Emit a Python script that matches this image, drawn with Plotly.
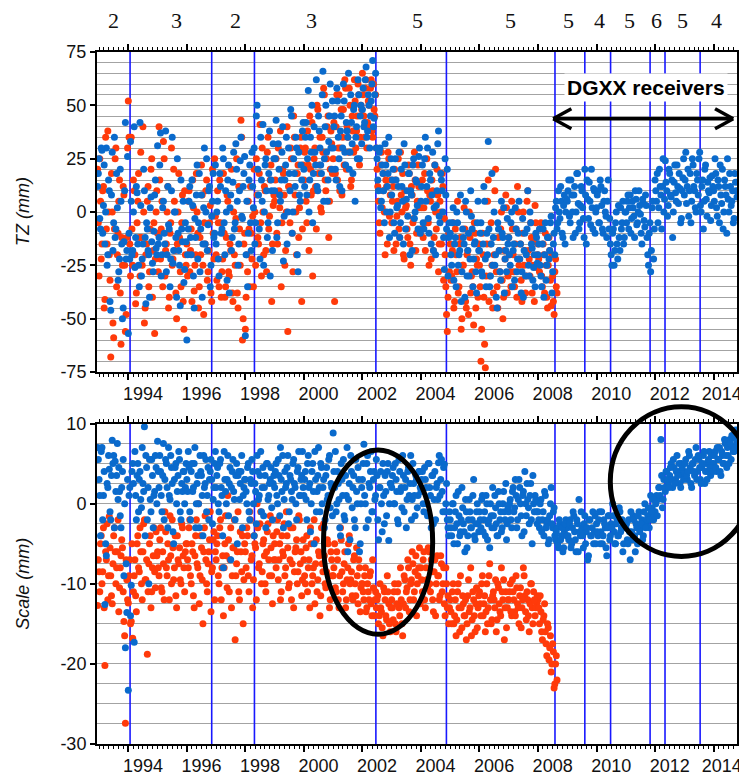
import plotly.graph_objects as go

# ---------------- data ----------------
# weekly-ish solution epochs, first set
epochs = [1992.95,
 1993.0, 1993.05, 1993.1, 1993.15, 1993.2, 1993.25, 1993.3, 1993.35, 1993.4, 1993.45, 1993.5, 1993.55, 1993.6, 1993.65, 1993.7, 1993.75, 1993.8, 1993.85, 1993.9, 1993.95,
 1994.0, 1994.05, 1994.1, 1994.15, 1994.2, 1994.25, 1994.3, 1994.35, 1994.4, 1994.45, 1994.5, 1994.55, 1994.6, 1994.65, 1994.7, 1994.75, 1994.8, 1994.85, 1994.9, 1994.95,
 1995.0, 1995.05, 1995.1, 1995.15, 1995.2, 1995.25, 1995.3, 1995.35, 1995.4, 1995.45, 1995.5, 1995.55, 1995.6, 1995.65, 1995.7, 1995.75, 1995.8, 1995.85, 1995.9, 1995.95,
 1996.0, 1996.05, 1996.1, 1996.15, 1996.2, 1996.25, 1996.3, 1996.35, 1996.4, 1996.45, 1996.5, 1996.55, 1996.6, 1996.65, 1996.7, 1996.75, 1996.8, 1996.85, 1996.9, 1996.95,
 1997.0, 1997.05, 1997.1, 1997.15, 1997.2, 1997.25, 1997.3, 1997.35, 1997.4, 1997.45, 1997.5, 1997.55, 1997.6, 1997.65, 1997.7, 1997.75, 1997.8, 1997.85, 1997.9, 1997.95,
 1998.0, 1998.05, 1998.1, 1998.15, 1998.2, 1998.25, 1998.3, 1998.35, 1998.4, 1998.45, 1998.5, 1998.55, 1998.6, 1998.65, 1998.7, 1998.75, 1998.8, 1998.85, 1998.9, 1998.95,
 1999.0, 1999.05, 1999.1, 1999.15, 1999.2, 1999.25, 1999.3, 1999.35, 1999.4, 1999.45, 1999.5, 1999.55, 1999.6, 1999.65, 1999.7, 1999.75, 1999.8, 1999.85, 1999.9, 1999.95,
 2000.0, 2000.05, 2000.1, 2000.15, 2000.2, 2000.25, 2000.3, 2000.35, 2000.4, 2000.45, 2000.5, 2000.55, 2000.6, 2000.65, 2000.7, 2000.75, 2000.8, 2000.85, 2000.9, 2000.95,
 2001.0, 2001.05, 2001.1, 2001.15, 2001.2, 2001.25, 2001.3, 2001.35, 2001.4, 2001.45, 2001.5, 2001.55, 2001.6, 2001.65, 2001.7, 2001.75, 2001.8, 2001.85, 2001.9, 2001.95,
 2002.0, 2002.05, 2002.1, 2002.15, 2002.2, 2002.25, 2002.3, 2002.35, 2002.4, 2002.45, 2002.5, 2002.55, 2002.6, 2002.65, 2002.7, 2002.75, 2002.8, 2002.85, 2002.9, 2002.95,
 2003.0, 2003.05, 2003.1, 2003.15, 2003.2, 2003.25, 2003.3, 2003.35, 2003.4, 2003.45, 2003.5, 2003.55, 2003.6, 2003.65, 2003.7, 2003.75, 2003.8, 2003.85, 2003.9, 2003.95,
 2004.0, 2004.05, 2004.1, 2004.15, 2004.2, 2004.25, 2004.3, 2004.35, 2004.4, 2004.45, 2004.5, 2004.55, 2004.6, 2004.65, 2004.7, 2004.75, 2004.8, 2004.85, 2004.9, 2004.95,
 2005.0, 2005.05, 2005.1, 2005.15, 2005.2, 2005.25, 2005.3, 2005.35, 2005.4, 2005.45, 2005.5, 2005.55, 2005.6, 2005.65, 2005.7, 2005.75, 2005.8, 2005.85, 2005.9, 2005.95,
 2006.0, 2006.05, 2006.1, 2006.15, 2006.2, 2006.25, 2006.3, 2006.35, 2006.4, 2006.45, 2006.5, 2006.55, 2006.6, 2006.65, 2006.7, 2006.75, 2006.8, 2006.85, 2006.9, 2006.95,
 2007.0, 2007.05, 2007.1, 2007.15, 2007.2, 2007.25, 2007.3, 2007.35, 2007.4, 2007.45, 2007.5, 2007.55, 2007.6, 2007.65, 2007.7, 2007.75, 2007.8, 2007.85, 2007.9, 2007.95,
 2008.0, 2008.05, 2008.1, 2008.15, 2008.2, 2008.25, 2008.3, 2008.35, 2008.4, 2008.45, 2008.5, 2008.55, 2008.6, 2008.65, 2008.7, 2008.75, 2008.8, 2008.85, 2008.9, 2008.95,
 2009.0, 2009.05, 2009.1, 2009.15, 2009.2, 2009.25, 2009.3, 2009.35, 2009.4, 2009.45, 2009.5, 2009.55, 2009.6, 2009.65, 2009.7, 2009.75, 2009.8, 2009.85, 2009.9, 2009.95,
 2010.0, 2010.05, 2010.1, 2010.15, 2010.2, 2010.25, 2010.3, 2010.35, 2010.4, 2010.45, 2010.5, 2010.55, 2010.6, 2010.65, 2010.7, 2010.75, 2010.8, 2010.85, 2010.9, 2010.95,
 2011.0, 2011.05, 2011.1, 2011.15, 2011.2, 2011.25, 2011.3, 2011.35, 2011.4, 2011.45, 2011.5, 2011.55, 2011.6, 2011.65, 2011.7, 2011.75, 2011.8, 2011.85, 2011.9, 2011.95,
 2012.0, 2012.05, 2012.1, 2012.15, 2012.2, 2012.25, 2012.3, 2012.35, 2012.4, 2012.45, 2012.5, 2012.55, 2012.6, 2012.65, 2012.7, 2012.75, 2012.8, 2012.85, 2012.9, 2012.95,
 2013.0, 2013.05, 2013.1, 2013.15, 2013.2, 2013.25, 2013.3, 2013.35, 2013.4, 2013.45, 2013.5, 2013.55, 2013.6, 2013.65, 2013.7, 2013.75, 2013.8, 2013.85, 2013.9, 2013.95,
 2014.0, 2014.05, 2014.1, 2014.15, 2014.2, 2014.25, 2014.3, 2014.35, 2014.4, 2014.45, 2014.5, 2014.55, 2014.6, 2014.65, 2014.7, 2014.75, 2014.8]

# second, interleaved set of epochs
epochs2 = [1992.975,
 1993.025, 1993.075, 1993.125, 1993.175, 1993.225, 1993.275, 1993.325, 1993.375, 1993.425, 1993.475, 1993.525, 1993.575, 1993.625, 1993.675, 1993.725, 1993.775, 1993.825, 1993.875, 1993.925, 1993.975,
 1994.025, 1994.075, 1994.125, 1994.175, 1994.225, 1994.275, 1994.325, 1994.375, 1994.425, 1994.475, 1994.525, 1994.575, 1994.625, 1994.675, 1994.725, 1994.775, 1994.825, 1994.875, 1994.925, 1994.975,
 1995.025, 1995.075, 1995.125, 1995.175, 1995.225, 1995.275, 1995.325, 1995.375, 1995.425, 1995.475, 1995.525, 1995.575, 1995.625, 1995.675, 1995.725, 1995.775, 1995.825, 1995.875, 1995.925, 1995.975,
 1996.025, 1996.075, 1996.125, 1996.175, 1996.225, 1996.275, 1996.325, 1996.375, 1996.425, 1996.475, 1996.525, 1996.575, 1996.625, 1996.675, 1996.725, 1996.775, 1996.825, 1996.875, 1996.925, 1996.975,
 1997.025, 1997.075, 1997.125, 1997.175, 1997.225, 1997.275, 1997.325, 1997.375, 1997.425, 1997.475, 1997.525, 1997.575, 1997.625, 1997.675, 1997.725, 1997.775, 1997.825, 1997.875, 1997.925, 1997.975,
 1998.025, 1998.075, 1998.125, 1998.175, 1998.225, 1998.275, 1998.325, 1998.375, 1998.425, 1998.475, 1998.525, 1998.575, 1998.625, 1998.675, 1998.725, 1998.775, 1998.825, 1998.875, 1998.925, 1998.975,
 1999.025, 1999.075, 1999.125, 1999.175, 1999.225, 1999.275, 1999.325, 1999.375, 1999.425, 1999.475, 1999.525, 1999.575, 1999.625, 1999.675, 1999.725, 1999.775, 1999.825, 1999.875, 1999.925, 1999.975,
 2000.025, 2000.075, 2000.125, 2000.175, 2000.225, 2000.275, 2000.325, 2000.375, 2000.425, 2000.475, 2000.525, 2000.575, 2000.625, 2000.675, 2000.725, 2000.775, 2000.825, 2000.875, 2000.925, 2000.975,
 2001.025, 2001.075, 2001.125, 2001.175, 2001.225, 2001.275, 2001.325, 2001.375, 2001.425, 2001.475, 2001.525, 2001.575, 2001.625, 2001.675, 2001.725, 2001.775, 2001.825, 2001.875, 2001.925, 2001.975,
 2002.025, 2002.075, 2002.125, 2002.175, 2002.225, 2002.275, 2002.325, 2002.375, 2002.425, 2002.475, 2002.525, 2002.575, 2002.625, 2002.675, 2002.725, 2002.775, 2002.825, 2002.875, 2002.925, 2002.975,
 2003.025, 2003.075, 2003.125, 2003.175, 2003.225, 2003.275, 2003.325, 2003.375, 2003.425, 2003.475, 2003.525, 2003.575, 2003.625, 2003.675, 2003.725, 2003.775, 2003.825, 2003.875, 2003.925, 2003.975,
 2004.025, 2004.075, 2004.125, 2004.175, 2004.225, 2004.275, 2004.325, 2004.375, 2004.425, 2004.475, 2004.525, 2004.575, 2004.625, 2004.675, 2004.725, 2004.775, 2004.825, 2004.875, 2004.925, 2004.975,
 2005.025, 2005.075, 2005.125, 2005.175, 2005.225, 2005.275, 2005.325, 2005.375, 2005.425, 2005.475, 2005.525, 2005.575, 2005.625, 2005.675, 2005.725, 2005.775, 2005.825, 2005.875, 2005.925, 2005.975,
 2006.025, 2006.075, 2006.125, 2006.175, 2006.225, 2006.275, 2006.325, 2006.375, 2006.425, 2006.475, 2006.525, 2006.575, 2006.625, 2006.675, 2006.725, 2006.775, 2006.825, 2006.875, 2006.925, 2006.975,
 2007.025, 2007.075, 2007.125, 2007.175, 2007.225, 2007.275, 2007.325, 2007.375, 2007.425, 2007.475, 2007.525, 2007.575, 2007.625, 2007.675, 2007.725, 2007.775, 2007.825, 2007.875, 2007.925, 2007.975,
 2008.025, 2008.075, 2008.125, 2008.175, 2008.225, 2008.275, 2008.325, 2008.375, 2008.425, 2008.475, 2008.525, 2008.575, 2008.625, 2008.675, 2008.725, 2008.775, 2008.825, 2008.875, 2008.925, 2008.975,
 2009.025, 2009.075, 2009.125, 2009.175, 2009.225, 2009.275, 2009.325, 2009.375, 2009.425, 2009.475, 2009.525, 2009.575, 2009.625, 2009.675, 2009.725, 2009.775, 2009.825, 2009.875, 2009.925, 2009.975,
 2010.025, 2010.075, 2010.125, 2010.175, 2010.225, 2010.275, 2010.325, 2010.375, 2010.425, 2010.475, 2010.525, 2010.575, 2010.625, 2010.675, 2010.725, 2010.775, 2010.825, 2010.875, 2010.925, 2010.975,
 2011.025, 2011.075, 2011.125, 2011.175, 2011.225, 2011.275, 2011.325, 2011.375, 2011.425, 2011.475, 2011.525, 2011.575, 2011.625, 2011.675, 2011.725, 2011.775, 2011.825, 2011.875, 2011.925, 2011.975,
 2012.025, 2012.075, 2012.125, 2012.175, 2012.225, 2012.275, 2012.325, 2012.375, 2012.425, 2012.475, 2012.525, 2012.575, 2012.625, 2012.675, 2012.725, 2012.775, 2012.825, 2012.875, 2012.925, 2012.975,
 2013.025, 2013.075, 2013.125, 2013.175, 2013.225, 2013.275, 2013.325, 2013.375, 2013.425, 2013.475, 2013.525, 2013.575, 2013.625, 2013.675, 2013.725, 2013.775, 2013.825, 2013.875, 2013.925, 2013.975,
 2014.025, 2014.075, 2014.125, 2014.175, 2014.225, 2014.275, 2014.325, 2014.375, 2014.425, 2014.475, 2014.525, 2014.575, 2014.625, 2014.675, 2014.725, 2014.775]

# TZ (mm), blue solution (whole period)
tz_blue = [
 12, 25, -8, 29, 3, -15, 30, -20, 10, -46, 28, -5, -12, 18, -32, -22, 5, -50, -14, 42, -18,
 -57, -22, 5, -18, 40, -12, 9, -25, 42, -30, -15, 10, -43, -8, -20, 2, -14, -28, 8, -17,
 31, -12, 37, -20, 5, -15, -28, 12, -8, -22, 35, -18, 0, -40, -10, -25, 15, -14, -33, -5,
 -60, -8, 12, -20, 3, -45, -12, 22, -5, -28, 8, -15, 30, 0, -18, 10, -35, -2, 18, -10,
 -15, 5, -30, 12, -8, 25, -20, 0, 15, -38, 8, -12, 28, -5, 20, -25, 10, 35, -3, 18,
 -58, 5, -10, 22, -18, 12, 30, -5, 50, 8, -22, 15, 41, 0, 25, -12, 18, -30, 10, 32,
 10, 43, -5, 20, 5, 28, -23, 15, 35, 0, 18, 48, -10, 25, 12, 30, -28, 8, 22, 38,
 20, 35, 8, 57, 15, 28, -5, 40, 22, 12, 45, 30, 18, 66, 25, 50, 5, 33, 60, 20,
 30, 45, 15, 52, 25, 38, 10, 60, 28, 42, 35, 20, 55, 32, 48, 5, 40, 62, 25, 50,
 48, 40, 62, 35, 55, 30, 52, 71, 44, 65, 25, 10, 30, 5, 18, -5, 22, 12, 35, 0,
 8, 20, -10, 15, 3, 28, -5, 12, -15, 22, 6, -2, 18, 10, -18, 25, 0, 14, -8, 30,
 5, 22, -8, 35, 12, -3, 18, -15, 28, 2, -20, 10, 38, -5, 15, 0, -27, 8, 20, -12,
 -10, -25, 2, -15, -35, -5, -20, 8, -28, -12, -40, 0, -18, -30, 10, -8, -22, -14, -38, 5,
 -18, -5, -30, 12, -22, -10, 33, -35, -15, -25, 0, -20, -45, -8, -28, 5, -12, -38, -18, -3,
 -12, -25, 0, -18, -32, -8, -22, 5, -15, -28, -40, -10, -20, 10, -30, -5, -17, -26, -35, -12,
 -20, -8, -30, -15, -40, -5, -25, -12, -18, -2, -28, -10, 2, -8, 10, -3, 5, -12, 8, 0,
 5, 15, -5, 8, -12, 12, 0, 18, -8, 3, 10, -3, 20, -15, 6, 14, -6, 2, 11, -10,
 2, 10, -5, 12, -8, 5, 0, -12, 15, -3, -20, -10, -25, -5, -15, 3, -18, -8, 5, -12,
 0, 5, -8, 8, -3, 2, -12, 6, -5, 10, -1, -15, 4, -7, 3, -20, -10, -28, 2, -22,
 15, 5, -5, 20, 8, 12, 0, 24, 10, 3, 18, 7, -12, 14, 9, 22, 4, 11, -3, 16,
 8, 28, 12, -2, 18, 5, 22, 10, 0, 15, 25, 3, 12, -8, 20, 6, 14, 9, -4, 17,
 10, 25, 2, 15, -5, 8, 20, 0, 12, -10, 6, 18, 3, 10, -3, 14, 7]

tz_blue2 = [
 18, -3, 30, -10, 22, 0, -25, 15, -42, 8, -18, 35, -8, 2, -28, 20, -15, -45, 10, -22, 26,
 -10, 33, -20, 0, -26, 12, -15, -35, 3, -22, 20, -12, -5, -18, -40, 7, -24, -9, 15, -20,
 -15, 22, -30, 2, -10, 38, -20, -6, -35, 10, -24, 0, -12, 25, -18, -44, -8, 5, -27, -14,
 -20, 5, -12, 15, -30, -3, 8, -22, 18, -8, -40, 2, -15, 25, -6, 12, -25, 5, -12, 22,
 0, -22, 18, -10, 30, -5, 10, -32, 22, 2, -18, 14, -8, 32, 5, -15, 24, -2, 12, 26,
 -20, -35, 15, -5, 28, 2, -15, 45, 20, -8, 35, 5, -25, 22, 10, -5, 38, 15, -18, 25,
 25, -12, 32, 8, 15, 40, -2, 22, -15, 30, 10, 45, 0, 18, 35, -20, 28, 5, 15, 42,
 12, 42, 25, 0, 35, 50, 18, 28, 62, 10, 38, 22, 55, 5, 40, 28, 15, 45, 30, 52,
 40, 20, 58, 35, 12, 45, 30, 52, 22, 38, 65, 28, 42, 18, 50, 35, 25, 55, 45, 32,
 58, 42, 68, 38, 50, 45, 60, 40, 55, 30, 15, 28, 2, 22, 10, 32, 0, 18, -12, 25,
 15, -5, 25, 2, 12, -12, 20, 5, 32, -8, 10, 18, -20, 8, 22, -3, 15, 3, 26, -10,
 12, -5, 25, 5, 30, -10, 15, 8, -18, 22, 3, 32, -2, 18, 10, -12, 25, -8, -30, -5,
 -20, -5, -32, -12, 0, -25, -18, -42, -8, -15, 5, -30, -10, -22, -2, -35, -15, -28, -5, -18,
 -10, -28, -15, 5, -35, -20, -8, -30, 18, -12, -25, -40, -5, -18, -32, -10, 2, -22, -28, -15,
 -20, -5, -35, -15, 2, -28, -10, -22, -38, -3, -18, -30, -8, -25, 0, -15, -32, -20, -10, -24,
 -15, -25, -35, -8, -20, -32, -12, -22, -5, -38, -15, -20, 5, -5, 0, 12, -10, 3, -15, 6,
 10, -2, 15, 0, 8, -10, 18, 4, -5, 12, 2, -12, 8, 15, -3, 5, 20, -8, 10, 0,
 8, -5, 15, 3, -10, 10, -2, 5, -8, -15, -25, -8, -18, 0, -22, -12, 2, -5, -15, 0,
 -5, 8, 2, -10, 5, -2, 10, -6, 0, 3, -10, 6, -4, 8, -12, -25, -5, -18, 5, -8,
 10, 18, 2, 12, -8, 25, 6, 14, -2, 20, 8, 15, 0, 22, 5, 12, 18, -5, 10, 25,
 15, 4, 20, 10, -5, 25, 12, 2, 18, 8, 28, 0, 15, 5, 22, -2, 10, 16, 3, 12,
 5, 18, -2, 12, 22, 4, -8, 15, 8, 25, 0, 12, 5, -5, 18, 10]

# TZ (mm), red solution (ends 2008.65)
tz_red = [
 20, -30, 5, -15, 12, -41, -8, 38, -20, -68, 0, -59, 25, -35, -10, 15, -62, -25, 8, -56, -12,
 52, -15, 35, -25, 10, -43, -5, 18, -30, -12, 40, -52, -20, 5, -35, -8, 25, -18, -57, 0,
 -10, 40, -22, 5, 33, -30, -15, 12, -40, -5, -25, 20, -18, -50, 0, -12, -35, 8, -55, -20,
 -15, 5, -28, -8, 15, -37, -20, 0, -45, -12, 22, -25, -5, 10, -32, -18, 3, -42, -10, 25,
 -20, 10, -35, -5, -28, 18, -40, -12, 5, -30, -18, -38, 0, -25, 25, -45, -8, 43, -60, -15,
 -55, -20, 5, -35, -10, -2, 20, -25, 8, -15, 41, -30, 0, 12, -18, 28, -8, 15, -42, 3,
 5, 25, -15, 10, 38, -5, 18, -25, 0, -56, 12, 30, -10, 45, 8, -20, 22, 2, 35, -8,
 15, 30, -5, 22, 45, 8, -30, 25, 12, 50, 18, 35, 0, 28, 55, 10, 40, -12, 20, 32,
 25, -42, 40, 15, 55, 30, 8, 48, 62, 20, 35, 58, 12, 45, 28, 52, 38, 60, 22, 50,
 65, 45, 58, 30, 52, 40, 62, 35, 48, 55, 20, 5, -10, 28, 10, 0, 15, -15, 25, 8,
 -5, 12, 20, -15, 5, -8, 28, 0, -20, 10, 3, -12, 18, -25, 8, -3, 15, -10, 22, 2,
 -8, 15, 2, -18, 25, -5, 8, -22, 10, -12, 0, 20, -28, 5, -15, 12, -3, -35, -56, -10,
 -15, -30, -5, -42, -20, 5, -35, -12, -50, -25, -8, -45, -18, 0, -38, -28, -53, -10, -22, -40,
 -25, -70, -10, -40, -73, -15, 15, -30, -5, -45, -20, 20, -35, -12, -28, 0, -50, -18, 8, -38,
 -12, -28, 5, -20, -35, -8, 12, -25, -15, -42, 0, -18, -30, 10, -22, -5, -38, -14, 3, -26,
 -15, -28, -5, -35, -20, -10, -40, -25, -18, -44, -30, -48, -22, -38]

tz_red2 = [
 -5, 25, -22, 10, -45, 35, -15, 0, -32, 18, -52, -8, 30, -20, 5, -38, -12, 12, -25, -48, 30,
 35, -30, -8, 15, -20, -38, 5, -12, 28, -25, 0, -45, -15, 12, -28, 20, -40, -5, -22, 10,
 -28, 15, -8, -35, 25, -18, 0, -45, -10, 30, -22, 5, -38, -15, 18, -28, -5, -42, 10, -25,
 -30, 10, -18, -42, 2, -25, 18, -10, -35, -20, 8, -48, -15, 15, -28, -5, -38, 20, -22, -2,
 -32, -5, 15, -40, -22, -10, -35, 8, -28, -15, 20, -42, -20, -3, -38, 12, -25, 35, -50, -10,
 -40, -28, -8, 12, -22, -35, 0, 25, -12, 18, -5, 30, -20, 10, -28, 35, -2, 22, -15, 8,
 15, -10, 30, 2, -35, 20, 8, -18, 40, 12, -5, 25, -28, 35, 0, 18, -12, 30, -42, 22,
 28, 5, 38, -18, 20, 42, 10, 30, -8, 48, 22, 2, 35, 58, 15, 25, 45, 5, 38, 18,
 42, 18, 55, 30, 10, 48, 35, 22, 58, 40, 28, 50, 15, 38, 62, 30, 45, 55, 35, 48,
 55, 35, 62, 42, 50, 58, 38, 60, 45, 30, 12, -5, 22, 2, 18, -20, 12, 28, -2, 15,
 5, -18, 15, -2, 25, -12, 8, 18, -22, 2, -8, 22, -15, 12, -5, 28, -18, 5, 12, -10,
 2, -12, 18, -5, 10, -25, 5, 15, -18, 22, -8, 8, -15, 0, 18, -32, -20, -48, -40, -28,
 -32, -18, -45, -8, -28, -38, -15, -55, -25, 2, -42, -20, -48, -12, -30, -35, -5, -45, -25, -15,
 -35, -55, -20, -62, -30, 5, -42, -15, -25, -38, 10, -28, -45, -18, -8, -32, -40, -22, 2, -30,
 -20, -35, -8, -28, -15, -40, 0, -22, -32, -10, -25, -38, 5, -18, -30, -12, -25, -42, -5, -20,
 -22, -8, -30, -15, -38, -25, -45, -12, -32, -20, -42, -28, -35]

# Scale (mm), blue solution
scale_blue = [
 7, 3, -4, 7, 1, -12.6, -6.5, 2, 4.3, -2, 7.9, 6, 5.3, 3.5, 0.5, 1.5, -3, 4, -9, -18, -13.6,
 -23.3, 2, -10.2, 5, -17.3, 1, 3.5, -1, 4, -0.5, 2.5, 9.6, 6, -2, -10, 0.5, 5.5, -3, 1.5, 4.5,
 7.8, 2, 4, -1, 7.5, 3, 5, -3, 1, 6, 2.5, -5, 4.5, 0, 3.5, 5.5, -2, 1.5, 4, 2,
 3, 6.5, -1, 4, 1.5, 5, -3, 2.5, 0, 6, 3.5, -4, 2, 5.5, 1, -2, 4, 3, 0.5, 5,
 2, 4.5, -1, 5.5, 1, -8, 3, 0, 6, 2.5, -7, 4, 1.5, -2, 5, 3.5, 0.5, 4, -3, 2,
 3, 0, 5, -2, 2.5, 4, -4, 1.5, 6, 0.5, 3.5, -1, 4.5, 2, -3, 5, 1, 3, -0.5, 2.5,
 2, 5, 0, 3.5, 7, 1.5, -3, 4, 2.5, 6, -1, 3, 0.5, 5.5, 2, -2, 4.5, 1, 3, 6.5,
 1, 4, -2, 6, 2.5, 0, 5, -5, 3, 1.5, 7, -1, 4.5, 2, -3, 3.5, 0.5, 5.5, -0.5, 2,
 8.8, 2, -1, 4, 0.5, -4, 3, 5.5, -2, 1, -6, 2.5, 6, -0.5, 3.5, -3, 1.5, 4.5, -6, 0,
 3, 7.4, 0, 5, -2, 2, 6.5, -1, 4, 1, 3.5, -4.5, 2, 0, 5, -2.5, 1.5, 4, -4.6, 2.5,
 2, 4.5, 0, 3, -2, 5.5, 1.5, -0.5, 3.5, 2, -3, 4, 1, 6, 0.5, 2.5, -1.5, 3, 1, 4,
 1.5, 4, -1, 3, 0, 5, 2, -3, 3.5, 0.5, -2, 2.5, 5.1, 1, 5.5, -1, 4.9, 0, -2, -4,
 -2, -4, 0, -3, 1, -5, -1.5, -3.5, 2, -2.5, -6, -1, -4, 0.5, -3, -2, 3, -4.5, -1, -2.5,
 -1, -3, 1, -2, -4, 0, -2.5, -5.5, -1.5, 2, -3, -0.5, -4, 1.5, -2, -3.5, 0, -1, 2.5, -2.5,
 -1, 0.5, -3, 2, -0.5, 1, -2, 3, 0, -4, 1.5, 4, -1.5, 0.5, -2.5, 2.5, -5, 0, 1, -1,
 -1, -3, 0.5, -2, -4, 1, -2.5, -5, -1.5, 2, -3, -0.5, -4.5, -3, -5.5, -2.5, -4, -6, -3.5, -2,
 -3, -4.5, -2, -5, -1, -3.5, -6, -2.5, 0.5, -4, -3, -5.5, -1.5, -3.5, -7, -2, -4, -3, -5, -1.5,
 -2.5, -4, -1, -3.5, -5, -2, -3, -6.5, -1.5, -4.5, -2.5, 0, -3.5, -5, -2, -4, -1, -3, -6, -2.5,
 -3, -4.5, -2, -7, -3.5, -1.5, -4, -2.5, -5, -1, -3, -2, -4, 0, -2.5, -1.5, -3, 1, -0.5, -2,
 -1, 1, 0.5, 2, 8, -0.5, 3, 1.5, 4, 2.5, 3.5, 5, 2, 4.5, 3, 6, 4, 2.5, 5, 3.5,
 4, 5.5, 3, 6.5, 4.5, 2, 5, 3.5, 7, 4, 5.5, 3, 4.5, 6, 2.5, 5, 4, 6.5, 3.5, 5,
 5, 6.5, 4, 5.5, 7, 3.5, 6, 5, 7.5, 4.5, 6, 8, 5.5, 7, 6.5, 9.2, 7.5]

scale_blue2 = [
 5.5, 1, 6.5, -2, 4, -5, 2.5, 6, -1, 3.5, 5, -3, 1.5, 7.5, 4.5, -1.5, 2, 5.5, 0, -7.5, 3,
 1, -14, 4, 2.5, 6.5, -2, 5, 3, 0.5, 7, 1.5, -4, 4.5, 2, 5.5, -1, 3.5, 1, 6, 0,
 4, 6, 1, 3.5, -2, 5.5, 2, 7, 0.5, 4.5, -3.5, 3, 5, 1.5, 6.5, -1, 2.5, 4, 0, 5,
 1.5, 4.5, -2, 5, 2, 7, 0, 3.5, -3, 4, 1, 6, 2.5, -1, 4.5, 3, 5.5, -2.5, 2, 6.5,
 3.5, 0, 5, 2, -4, 6.5, 1.5, 3, -1.5, 4.5, 2, 5.5, 0.5, 3.5, -5, 4, 2.5, 6, 1, 3,
 1.5, 4.5, -1, 3, 5.5, 0, 2.5, -2.5, 4, 1, 6.5, 2, -1.5, 3.5, 5, 0.5, 2.5, 4.5, -2, 3.5,
 4, 1, 5.5, -1.5, 3, 6, 0.5, 2, 4.5, -2.5, 3.5, 1.5, 5, 2.5, 0, 4, 6.5, 1, 3.5, 2,
 3, 0.5, 5, 2, -3.5, 4, 1.5, 6.5, -1, 3.5, 2, 5, 0, 3, -2, 4.5, 1, 6, 2.5, -1.5,
 4, 6.5, 0, 2.5, -3, 5, 1, -1.5, 3.5, 7, 0.5, -4.5, 4, 2, -2, 5.5, 0, 3, -5, 2,
 5, 1, -3, 6, 2.5, 4, -1, 3, 0.5, 5.5, -2, 2, 4, -3.5, 1, 3.5, -1.5, 5, 0, 2.5,
 3.5, 0, 5, 1.5, -2.5, 4, 2, 6, -1, 3, 0.5, 4.5, 2.5, -2, 5, 1, 3.5, -0.5, 4, 2,
 3, 0, 4.5, 2, -1.5, 5, 1, 3.5, -2.5, 4, 2, 0.5, 6, 3, 1.5, 4.5, -1, 2.5, -3, -1,
 -3, 0, -5, -1, -2.5, 1.5, -4, -2, -0.5, -3.5, 0.5, -5.5, -2, -1, -3, 1, -4, -2.5, 0, -3.5,
 -2, 0.5, -3.5, -1, 1, -4.5, -2, 0, -3, -1.5, 1, -2.5, -4, 0, -1, -3, 1.5, -2, -4.5, -0.5,
 0, -2, 1.5, -1, 3, -3, 0.5, 2, -1.5, 1, -3.5, 0, 2.5, -0.5, 1, -2, 3.5, -1, 0.5, -2.5,
 -2, 0, -3.5, -1, 1.5, -3, -2, -4.5, 0, -2.5, -1, -4, -3.5, -5, -2, -4.5, -3, -5.5, -2.5, -4,
 -4, -2.5, -5.5, -3, -1.5, -4.5, -2, -6, -3.5, -1, -4, -2.5, -5, -3, -6.5, -2, -4, -1, -3.5, -5,
 -3.5, -2, -5, -1, -4, -2.5, -5.5, -3, -1.5, -4, -3, -1.5, -5, -2.5, -4, -0.5, -3.5, -2, -5, -3,
 -2.5, -5, -3.5, -1, -4.5, -2, -6, -3, -1.5, -3.5, -2.5, -4.5, -1, -3, -2, -0.5, -2, -1, 0.5, -1.5,
 0, -1.5, 2, 1, 3.5, 0.5, 2, 4, 3, 2, 4.5, 3, 5.5, 2.5, 4, 3.5, 5, 2, 4.5, 3,
 5, 3.5, 4, 6, 2.5, 5, 4, 5.5, 3, 6, 4.5, 2.5, 5, 6.5, 4, 3, 5.5, 4.5, 6, 4,
 6, 4.5, 7, 5.5, 4, 6.5, 5, 8, 6, 7, 5, 7.5, 8.5, 6.5, 7, 8]

# Scale (mm), red solution
scale_red = [
 -12.7, -8.5, -5, -10, -3, -20.2, -7, -12, -1.6, -9, -12.5, -4, -6, -8, -2, -10.5, -6.5, -5.5, -14.7, -27.4, -9.5,
 -12.4, -7, -14.7, -16.8, -9, -11.5, -5, -8, -3, -10, -6, -2, -9.5, -18.8, -7.5, -4, -11, -6.5, -8.5, -3.5,
 -6, -9, -3, -11, -7.5, -1, -8, -5, -12, -6.5, -2, -9.5, -4, -13, -7, -5.5, -10, -3, -8, -6,
 -5, -8, -2, -10, -6, -13, -4, -7.5, 0, -9, -5.5, -15, -3, -7, -11, -6, -1, -8.5, -4.5, -12,
 -7, -4, -10, -2, -8, -14, -5, -6.5, 1, -11, -3, -9, -5.5, -17, -7.5, -1, -12, -6, -4, -9.5,
 -6, -3, -9, -1, -7, -13, -4, -5.5, 0, -8, -2.5, -10, -5, -6.5, -11, -3.5, -7, -1.5, -9, -4,
 -5, -8, -2, -7, -12, -4, -6.5, -9, -1, -5.5, -10, -3, -7.5, -13, -6, -4.5, -8.5, -2, -6, -9.5,
 -7, -10, -4, -8, -13, -5, -9, -2, -7.5, -11, -6, -14, -3, -8.5, -6.5, -10.5, -4.5, -9, -12, -7,
 -9, -5, -11, -7, -13, -3, -8.5, -10, -6, -12, -8, -4, -9.5, -11.5, -7, -10, -5.5, -12.5, -8, -10.5,
 -10, -12, -8, -13, -11, -9, -12.5, -7, -14, -11, -12, -15, -10, -13.5, -16.5, -11, -14, -9, -12.5, -16,
 -12, -14.5, -10, -16, -11, -13, -8, -15, -12.5, -9.5, -11, -7, -13.5, -10, -6, -12, -8.5, -14, -9, -5.5,
 -8, -11, -6, -13, -9.5, -5.5, -10, -7, -12, -8.5, -14, -6.5, -9, -11.5, -7.5, -10, -12.5, -8, -13, -15,
 -12, -15, -10, -14, -16.5, -11, -13, -9, -15.5, -12.5, -14, -17, -11.5, -13.5, -8, -14.5, -12, -16, -10.5, -13,
 -11, -14, -9, -12.5, -16, -10, -13, -7.5, -15, -11.5, -12, -9.5, -14.5, -10.5, -13.5, -8, -12, -17, -11, -13,
 -12, -10, -14, -11, -13.5, -9, -12.5, -15, -10.5, -13, -8, -11.5, -14.5, -12, -16, -10, -13, -11, -14, -12.5,
 -12, -15, -13.5, -17, -14, -16, -19, -15.5, -18, -21, -17.5, -23, -20, -22]

scale_red2 = [
 -7, -11, -4, -8.5, -13, -6, -2.5, -9, -5.5, -11.5, -7.5, -3, -10, -6, -13.5, -8, -4.5, -11, -16.5, -7, -12,
 -9, -15, -5, -11, -7, -13.5, -4, -8.5, -6, -12, -2.5, -9.5, -7, -11, -5, -13, -8, -3, -10.5, -6.5,
 -8, -4.5, -10.5, -6, -12, -3.5, -9, -7, -1.5, -10, -5.5, -8, -11.5, -4, -7.5, -9.5, -2.5, -6.5, -11, -5,
 -7, -3, -9, -5, -11.5, -6.5, -2, -8, -12.5, -4, -9.5, -6, -1.5, -10, -7.5, -4.5, -13.5, -8, -3.5, -6,
 -5, -9, -3, -12, -6.5, -8, -1.5, -10.5, -4.5, -7, -13, -5.5, -2, -9, -6, -11, -3.5, -8.5, -15, -5,
 -8, -4, -11, -2, -6.5, -9.5, -5, -12, -3, -7.5, -1, -8.5, -4.5, -10, -6, -2.5, -9, -5.5, -12.5, -7,
 -7, -3.5, -9.5, -5, -11, -6, -2.5, -8, -4, -10.5, -7, -12, -3, -8.5, -5.5, -10, -1.5, -7.5, -11.5, -4.5,
 -9, -5.5, -11, -7, -3, -10, -8, -12.5, -4.5, -9.5, -6.5, -11.5, -7.5, -2.5, -10, -8.5, -5, -13, -6, -9,
 -8, -10.5, -6, -12, -9, -4.5, -11, -7.5, -13, -9.5, -5, -10, -8.5, -12, -6.5, -11.5, -9, -7, -13.5, -10,
 -11, -9, -13.5, -10, -12, -8.5, -14, -10.5, -12, -13, -11.5, -14, -13, -15.5, -10.5, -12, -14.5, -11, -15, -13,
 -13, -11, -15, -12.5, -10, -14, -12, -16.5, -9, -13, -10.5, -8, -12, -9.5, -7.5, -11, -6.5, -10, -8, -12.5,
 -9.5, -7, -12, -8, -10.5, -6, -11, -8.5, -13.5, -7, -10, -9, -12, -6.5, -11, -8, -14, -10, -11.5, -13,
 -13.5, -11, -15, -12, -14.5, -10, -16, -13, -11.5, -14, -12, -15, -9.5, -13, -16.5, -11, -14, -12.5, -15.5, -11.5,
 -12.5, -10, -14, -11.5, -13.5, -15, -9, -12, -14.5, -11, -13, -16, -10, -12.5, -14, -11, -9.5, -13, -15.5, -12,
 -11, -13.5, -9.5, -12, -14, -10.5, -13, -11.5, -15.5, -12, -9, -13.5, -11, -14, -12.5, -10, -15, -12, -13, -11.5,
 -13, -11.5, -16, -14.5, -12.5, -17.5, -15, -19.5, -16.5, -20, -18.5, -22.5, -19]

assert len(tz_blue) == len(epochs) == len(scale_blue), (len(tz_blue), len(epochs), len(scale_blue))
assert len(tz_blue2) == len(epochs2) == len(scale_blue2), (len(tz_blue2), len(epochs2), len(scale_blue2))
assert len(tz_red) == len(scale_red), (len(tz_red), len(scale_red))
assert len(tz_red2) == len(scale_red2), (len(tz_red2), len(scale_red2))

# discontinuity epochs (blue vertical lines) and the count written above each segment
breaks = [1994.06, 1996.85, 1998.31, 2002.46, 2004.87, 2008.58, 2009.60, 2010.48, 2011.83, 2012.34, 2013.54]
segment_counts = ["2", "3", "2", "3", "5", "5", "5", "4", "5", "6", "5", "4"]
segment_count_pos = [1993.48, 1995.66, 1997.65, 2000.25, 2003.87, 2007.05, 2009.03, 2010.09, 2011.12, 2012.04, 2012.93, 2014.09]

# axis tick labels (year label centred inside the year interval)
year_labels = ["1994", "1996", "1998", "2000", "2002", "2004", "2006", "2008", "2010", "2012", "2014"]
year_label_pos = [1994.5, 1996.5, 1998.5, 2000.5, 2002.5, 2004.5, 2006.5, 2008.5, 2010.5, 2012.5, 2014.28]
tz_tick_vals = [-75, -50, -25, 0, 25, 50, 75]
tz_tick_text = ["-75", "-50", "-25", "0", "25", "50", "75"]
scale_tick_vals = [-30, -20, -10, 0, 10]
scale_tick_text = ["-30", "-20", "-10", "0", "10"]

X_RANGE = [1992.93, 2014.80]
TZ_RANGE = [-75, 75]
SCALE_RANGE = [-30, 10]

# annotations
dgxx_span = [2008.52, 2014.67]
dgxx_level = 43.7
dgxx_head = [0.62, 4.7]
dgxx_text_pos = [2011.70, 58.3]
ellipse_scale = dict(x=[2000.67, 2004.40], y=[-16.3, 6.7])
ellipse_trend = dict(x=[2010.47, 2015.33], y=[-6.6, 12.1])

RED = "#FF3A0A"
BLUE = "#0A6ACC"
LINE_BLUE = "#1818FF"
FONT = "Liberation Sans, Arial, Helvetica, sans-serif"

# ---------------- figure ----------------
fig = go.Figure()

def add_breaks(xa, ya, yr):
    xs, ys = [], []
    for b in breaks:
        xs += [b, b, None]
        ys += [yr[0], yr[1], None]
    fig.add_trace(go.Scatter(x=xs, y=ys, mode="lines", line=dict(color=LINE_BLUE, width=1.6),
                             xaxis=xa, yaxis=ya, hoverinfo="skip", showlegend=False))

add_breaks("x", "y", TZ_RANGE)
add_breaks("x2", "y2", SCALE_RANGE)

ep_red = epochs[:len(tz_red)] + epochs2[:len(tz_red2)]
ep_blue = epochs + epochs2
mk = dict(size=7, line=dict(width=0))
fig.add_trace(go.Scatter(x=ep_red, y=tz_red + tz_red2, mode="markers", marker=dict(color=RED, **mk),
                         xaxis="x", yaxis="y", showlegend=False))
fig.add_trace(go.Scatter(x=ep_blue, y=tz_blue + tz_blue2, mode="markers", marker=dict(color=BLUE, **mk),
                         xaxis="x", yaxis="y", showlegend=False))
fig.add_trace(go.Scatter(x=ep_red, y=scale_red + scale_red2, mode="markers", marker=dict(color=RED, **mk),
                         xaxis="x2", yaxis="y2", showlegend=False))
fig.add_trace(go.Scatter(x=ep_blue, y=scale_blue + scale_blue2, mode="markers", marker=dict(color=BLUE, **mk),
                         xaxis="x2", yaxis="y2", showlegend=False))
# dummy traces so the label-only overlay axes get drawn
fig.add_trace(go.Scatter(x=[None], y=[None], xaxis="x3", yaxis="y", showlegend=False, hoverinfo="skip"))
fig.add_trace(go.Scatter(x=[None], y=[None], xaxis="x4", yaxis="y2", showlegend=False, hoverinfo="skip"))

# page is 747x775; the browser places the figure 8 px in from the top-left corner
OFF = 8
W, H = 747 - OFF, 775 - OFF
L, R, T, B = 97 - OFF, 10, 52 - OFF, 31
plot_h = H - T - B
top_dom = [(H - B - (372 - OFF)) / plot_h, 1.0]
bot_dom = [0.0, (H - B - (423.5 - OFF)) / plot_h]

tickfont = dict(family=FONT, size=18, color="#111")

def x_ticks_axis(anchor):
    return dict(anchor=anchor, domain=[0, 1], range=X_RANGE, showline=True, linecolor="black",
                linewidth=2, mirror="ticks", ticks="outside", tick0=1994, dtick=2, ticklen=6,
                tickwidth=1.5, tickcolor="black", showticklabels=False, showgrid=False,
                zeroline=False, automargin=False,
                minor=dict(ticks="outside", tick0=1994, dtick=1 / 6, ticklen=3, tickwidth=1,
                           tickcolor="black", showgrid=False))

def x_label_axis(over, anchor):
    return dict(overlaying=over, anchor=anchor, side="bottom", range=X_RANGE, showline=False,
                showgrid=False, zeroline=False, tickmode="array", tickvals=year_label_pos,
                ticktext=year_labels, ticks="outside", ticklen=5, tickcolor="rgba(0,0,0,0)",
                tickfont=tickfont, automargin=False)

def y_axis(dom, rng, tv, tt, minor_dt):
    return dict(domain=dom, range=rng, showline=True, linecolor="black", linewidth=2,
                mirror="ticks", ticks="outside", tickmode="array", tickvals=tv, ticktext=tt,
                ticklen=5, tickwidth=1.5,
                tickcolor="black", showgrid=True, gridcolor="#a3a3a3", gridwidth=1,
                zeroline=False, tickfont=tickfont, automargin=False,
                minor=dict(tick0=0, dtick=minor_dt, showgrid=True, gridcolor="#a3a3a3",
                           gridwidth=1, ticks=""))

fig.update_layout(
    template="none",
    width=W, height=H, autosize=False,
    margin=dict(l=L, r=R, t=T, b=B, pad=0, autoexpand=False),
    paper_bgcolor="white", plot_bgcolor="white",
    font=dict(family=FONT, size=18, color="#111"),
    showlegend=False,
    xaxis=x_ticks_axis("y"),
    xaxis2=x_ticks_axis("y2"),
    xaxis3=x_label_axis("x", "y"),
    xaxis4=x_label_axis("x2", "y2"),
    yaxis=y_axis(top_dom, TZ_RANGE, tz_tick_vals, tz_tick_text, 5),
    yaxis2=y_axis(bot_dom, SCALE_RANGE, scale_tick_vals, scale_tick_text, 2.5),
    hovermode=False,
)

# y titles
fig.add_annotation(text="<i>TZ (mm)</i>", xref="paper", yref="y domain", x=(23 - 97) / 640, y=0.5,
                   textangle=-90, showarrow=False, font=dict(family=FONT, size=18, color="#111"),
                   xanchor="center", yanchor="middle")
fig.add_annotation(text="<i>Scale (mm)</i>", xref="paper", yref="y2 domain", x=(23 - 97) / 640, y=0.5,
                   textangle=-90, showarrow=False, font=dict(family=FONT, size=18, color="#111"),
                   xanchor="center", yanchor="middle")

# segment counts above the top panel (20 px below the page top)
for lab, xp in zip(segment_counts, segment_count_pos):
    fig.add_annotation(text=lab, x=xp, xref="x", y=(H - B - (20 - OFF)) / plot_h, yref="paper",
                       showarrow=False, xanchor="center", yanchor="middle",
                       font=dict(family="Liberation Serif, Times New Roman, serif", size=22, color="#111"))

# DGXX receivers label and double arrow
fig.add_annotation(text="<b>DGXX receivers</b>", x=dgxx_text_pos[0], y=dgxx_text_pos[1], xref="x", yref="y",
                   showarrow=False, bgcolor="white", borderpad=2,
                   font=dict(family=FONT, size=21, color="black"))
arrow_line = dict(color="black", width=3.5)
fig.add_shape(type="line", xref="x", yref="y", x0=dgxx_span[0], x1=dgxx_span[1],
              y0=dgxx_level, y1=dgxx_level, line=arrow_line, layer="above")
for tip, sgn in ((dgxx_span[0], 1), (dgxx_span[1], -1)):
    for dy in (dgxx_head[1], -dgxx_head[1]):
        fig.add_shape(type="line", xref="x", yref="y", x0=tip, y0=dgxx_level,
                      x1=tip + sgn * dgxx_head[0], y1=dgxx_level + dy, line=arrow_line, layer="above")

# highlight ellipses (bottom panel)
fig.add_shape(type="circle", xref="x2", yref="y2", x0=ellipse_scale["x"][0], x1=ellipse_scale["x"][1],
              y0=ellipse_scale["y"][0], y1=ellipse_scale["y"][1], line=dict(color="black", width=5),
              layer="above")

def dom_frac(v, rng):
    return (v - rng[0]) / (rng[1] - rng[0])

fig.add_shape(type="circle", xref="x2 domain", yref="y2 domain",
              x0=dom_frac(ellipse_trend["x"][0], X_RANGE), x1=dom_frac(ellipse_trend["x"][1], X_RANGE),
              y0=dom_frac(ellipse_trend["y"][0], SCALE_RANGE), y1=dom_frac(ellipse_trend["y"][1], SCALE_RANGE),
              line=dict(color="black", width=5), layer="above")

fig.write_html("out.html")
